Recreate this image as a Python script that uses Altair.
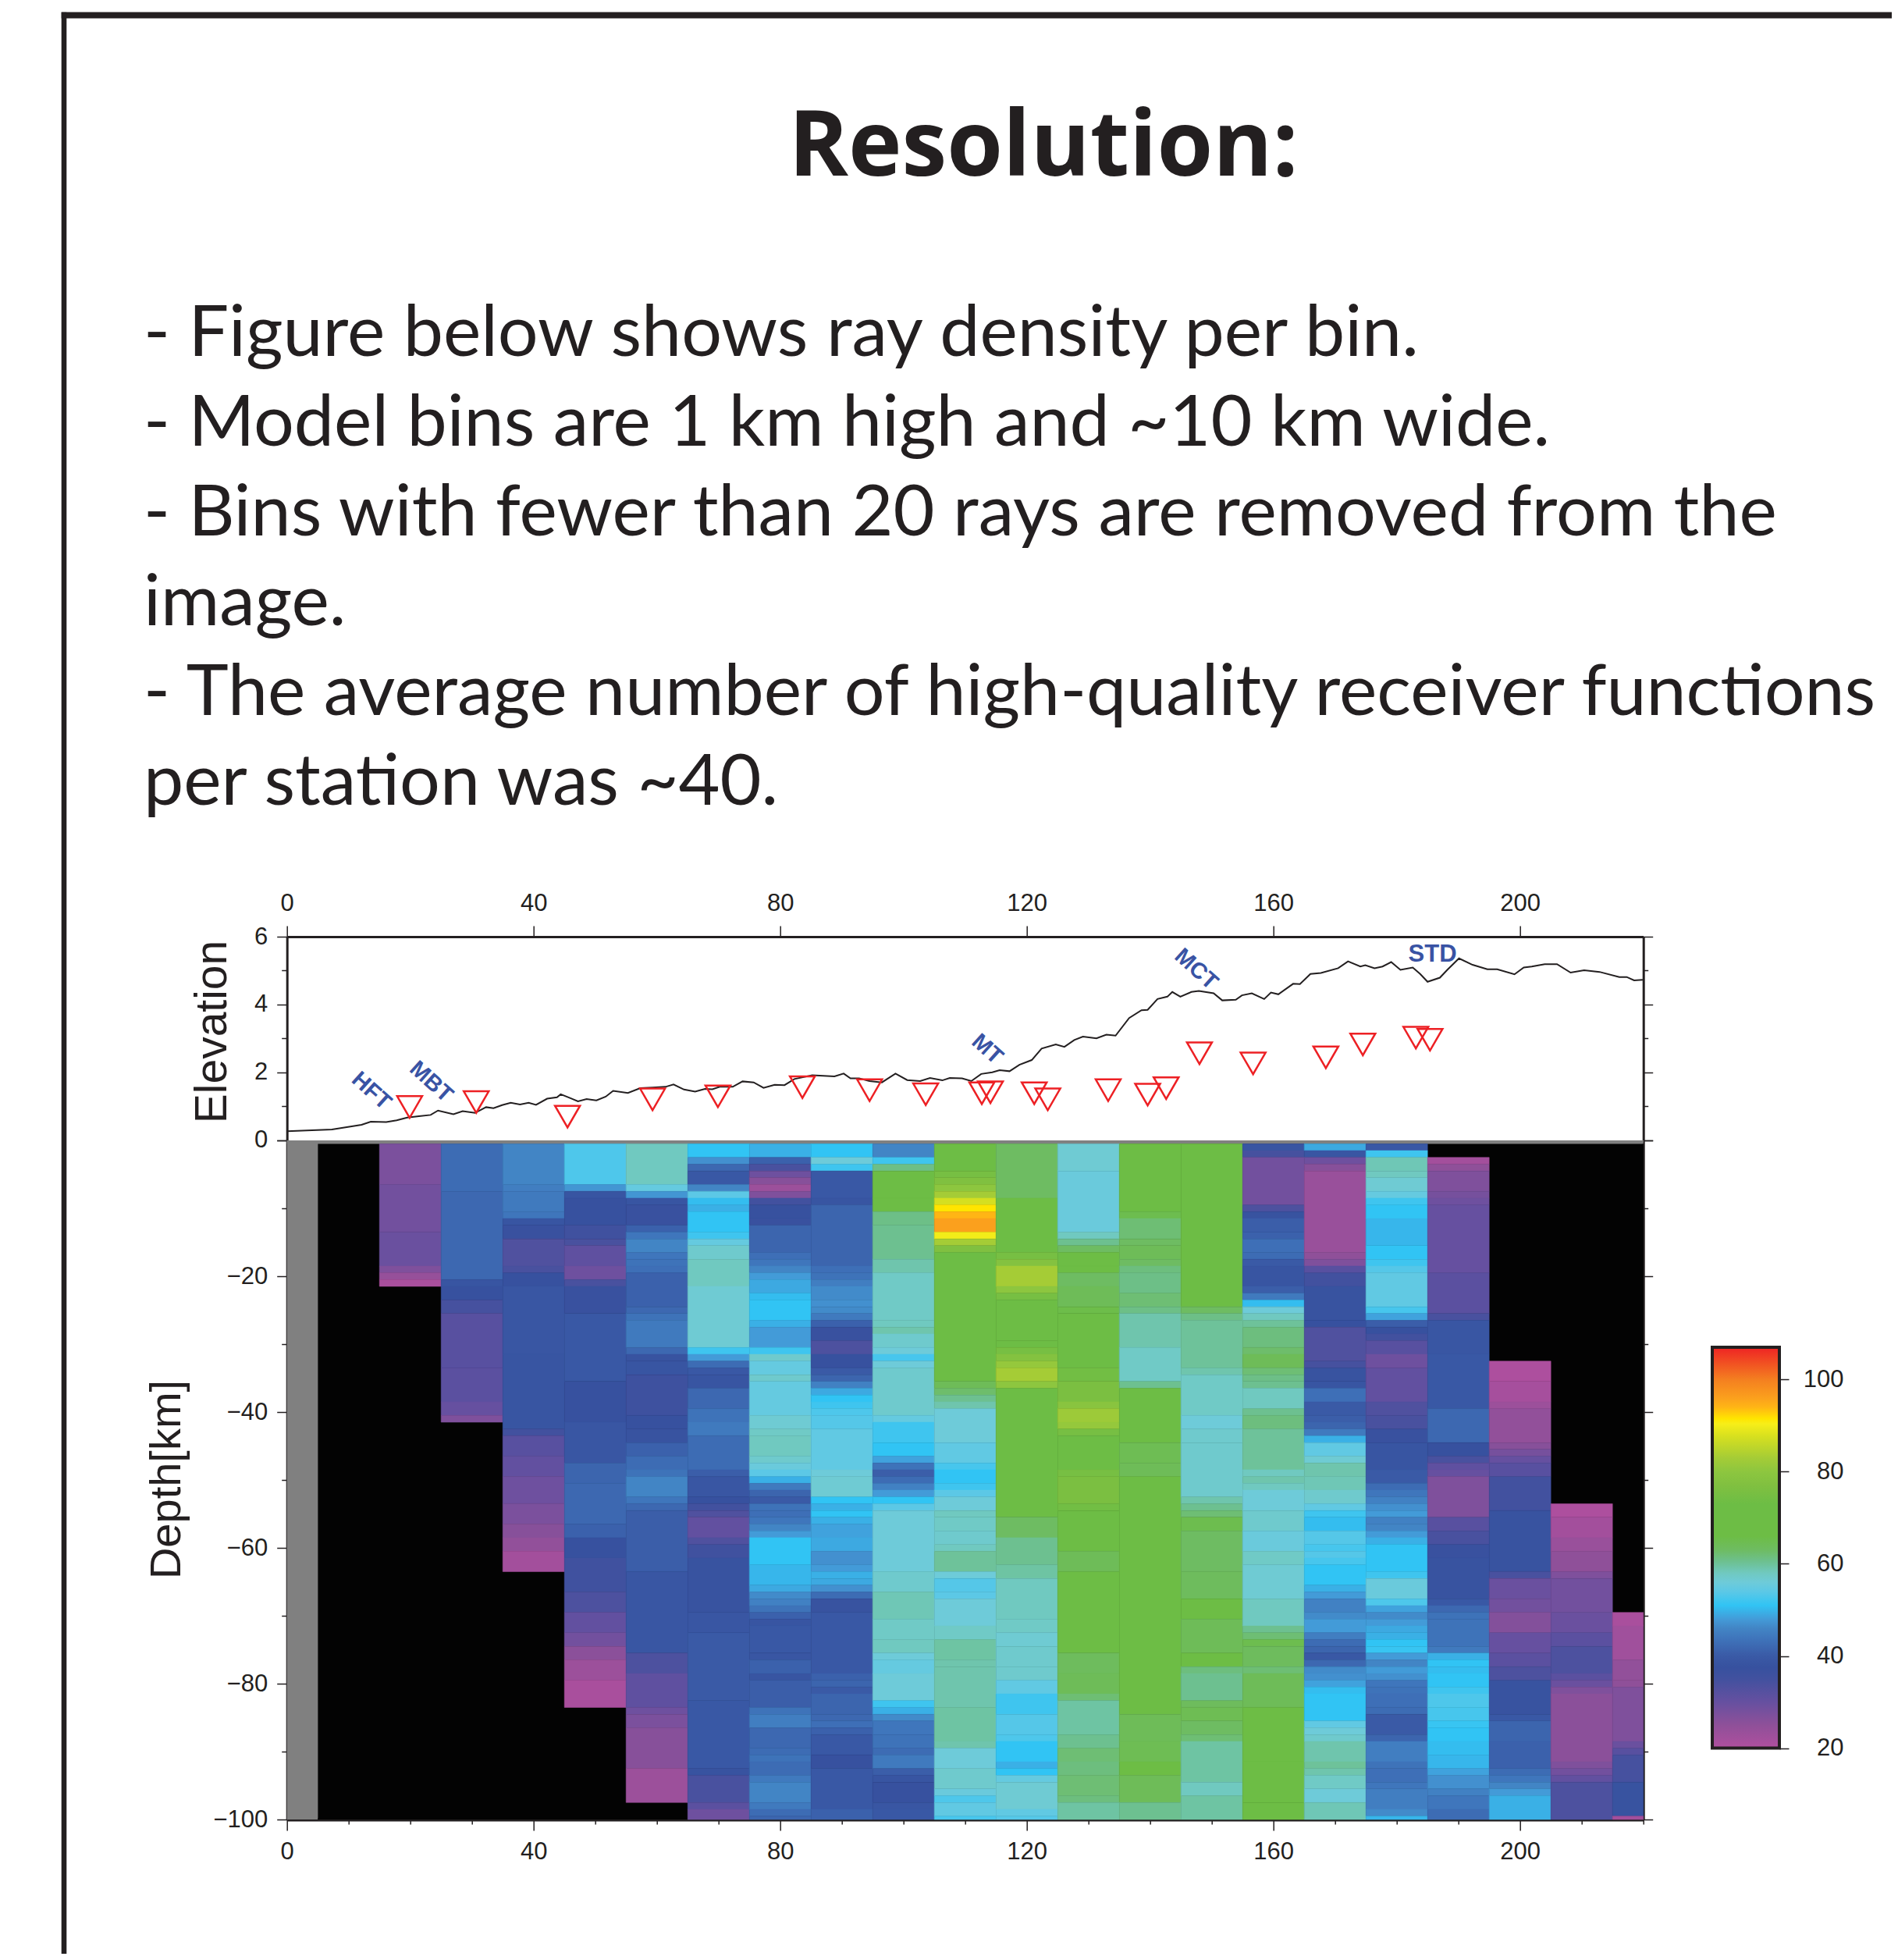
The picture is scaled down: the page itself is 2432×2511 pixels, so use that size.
import altair as alt
import pandas as pd

TXT = "#231f20"
SANS = "Liberation Sans"

title_text = "Resolution:"
body_lines = [
    "- Figure below shows ray density per bin.",
    "- Model bins are 1 km high and ~10 km wide.",
    "- Bins with fewer than 20 rays are removed from the",
    "image.",
    "- The average number of high-quality receiver functions",
    "per station was ~40.",
]

profile_km = [0,7.3,9.7,12.1,13.6,16.1,17.8,19.5,21.4,23.3,24.5,27.0,28.5,30.5,32.3,33.5,34.9,36.3,37.8,39.2,40.4,42.2,43.8,44.4,45.9,47.2,48.6,50.2,51.7,52.9,55.3,57.3,59.3,61.4,62.7,64.4,66.2,67.8,69.0,70.2,72.3,73.9,75.7,77.3,79.1,80.7,82.3,85.2,88.8,90.3,91.4,92.8,94.5,96.5,98.7,100.6,102.7,104.3,106.3,107.5,109.5,111.0,112.6,114.4,115.6,117.2,118.8,120.8,122.4,124.7,126.1,127.7,129.1,131.3,132.9,134.4,136.6,138.6,139.6,141.2,142.8,143.6,144.9,146.7,147.9,150.3,151.7,153.9,154.9,156.5,158.5,159.6,160.8,163.2,164.3,166.0,167.7,170.5,172.1,174.1,174.9,176.4,177.7,179.1,180.6,182.6,183.8,185.0,187.0,188.2,190.1,192.3,194.7,196.3,199.1,200.6,201.9,204.0,206.0,208.2,210.4,212.9,216.1,217.3,218.5,219.9]
profile_elev = [.26,.31,.38,.45,.54,.53,.58,.66,.70,.74,.87,.76,.85,.80,.97,.94,1.03,1.10,1.05,1.10,1.04,1.22,1.26,1.35,1.24,1.14,1.21,1.17,1.28,1.45,1.39,1.53,1.55,1.57,1.64,1.49,1.43,1.51,1.50,1.57,1.57,1.73,1.70,1.54,1.63,1.62,1.80,1.91,1.88,1.96,1.82,1.82,1.74,1.70,1.96,1.77,1.74,1.83,1.76,1.83,1.82,1.74,1.95,2.00,2.06,2.03,2.22,2.36,2.70,2.82,2.75,2.95,3.05,3.00,3.11,3.08,3.60,3.83,3.84,4.16,4.23,4.37,4.23,4.37,4.40,4.33,4.12,4.14,4.27,4.33,4.16,4.35,4.30,4.61,4.60,4.90,4.93,5.07,5.27,5.12,5.16,5.07,5.12,5.25,5.02,5.09,4.90,4.67,4.79,5.02,5.36,5.17,5.04,5.04,4.89,5.09,5.12,5.19,5.19,4.94,5.01,4.96,4.81,4.81,4.71,4.73]

station_km = [19.9,30.7,45.5,59.3,69.9,83.6,94.5,103.6,112.7,114.1,121.2,123.4,133.2,139.6,142.6,148,156.7,168.5,174.5,183.1,185.4]
station_elev = [.975,1.12,.69,1.2,1.29,1.56,1.47,1.35,1.38,1.41,1.38,1.2,1.47,1.34,1.53,2.56,2.26,2.44,2.82,3.02,2.96]

fault_names = ["HFT", "MBT", "MT", "MCT"]
fault_km = [13.7, 23.4, 113.6, 147.5]
fault_elev = [1.45, 1.72, 2.68, 5.04]
std_name = ["STD"]
std_km = [185.8]
std_elev = [5.48]

# Ray counts per column, as (number of 1 km rows, ray count) from the top down.
col_15 = [(6,27.5),(7,28.5),(5,29.5),(1,27),(1,24),(1,21)]
col_25 = [(7,42.5),(13,42),(1,38.5),(2,37.5),(2,34.5),(8,32),(5,31.5),(2,30),(1,27)]
col_35 = [(6,46),(1,45),(3,44.5),(1,44),(1,38.5),(2,37),(4,33),(1,34),(2,37.5),(10,39),(11,38.5),(1,35),(3,32),(3,30.5),(4,29),(3,27.5),(2,26),(2,24.5),(3,22)]
col_45 = [(6,53),(1,47.5),(1,38.5),(4,37.5),(2,35.5),(1,34),(3,31),(2,29),(1,34),(4,37),(10,39.5),(6,37.5),(6,39),(3,41.5),(6,42),(2,41),(3,37.5),(5,35.5),(3,33.5),(3,30.5),(2,28.5),(2,25.5),(3,23),(4,21)]
col_55 = [(6,58),(1,55),(1,47.5),(1,38.5),(3,37),(1,41),(1,44),(2,46),(1,44),(1,43.5),(1,43),(5,41),(1,42),(1,43.5),(4,44.5),(1,42),(1,38),(2,38.5),(6,36),(2,37.5),(2,38),(2,41),(2,42.5),(1,43.5),(3,46),(1,44),(1,42),(9,40.5),(12,39),(3,33.5),(5,31),(1,29),(2,27.5),(6,26),(5,23)]
col_65 = [(2,51),(1,47),(1,42),(2,39.5),(1,46),(1,54),(1,50.5),(1,49.5),(3,51),(1,52),(1,55),(2,57),(4,58),(9,56.5),(1,52),(1,48),(1,42.5),(1,39.5),(2,38.5),(3,42),(2,43.5),(2,44.5),(5,42.5),(1,40.5),(3,39),(1,37.5),(1,35),(1,33),(3,30.5),(1,33),(2,35.5),(8,38),(3,39),(10,40),(10,39.5),(1,38),(4,34),(1,31.5),(2,29)]
col_75 = [(2,49.5),(1,41),(1,34),(1,29),(1,26),(1,23),(1,27),(1,35),(2,37.5),(1,37),(4,41.5),(1,43),(1,44),(1,46),(1,48),(2,49),(1,50.5),(3,51),(1,49.5),(3,48),(1,52),(1,57),(2,55),(1,57),(5,55),(2,56.5),(1,57.5),(3,58),(1,57),(1,55.5),(1,54),(1,49.5),(1,44.5),(1,41.5),(1,40),(1,43.5),(1,43),(1,44),(1,46),(1,48),(4,51),(3,50),(1,49),(1,46.5),(1,45.5),(1,43.5),(1,41),(1,38.5),(4,39.5),(1,39),(2,41),(1,38.5),(4,40.5),(1,43.5),(2,45),(3,42),(1,42.5),(1,43.5),(2,42.5),(1,44.5),(3,46),(1,44.5),(1,42.5),(1,41.5)]
col_85 = [(2,51),(1,56),(1,52),(4,39.5),(1,38.5),(9,41.5),(1,43),(1,43.5),(1,45),(2,46.5),(1,47),(1,46.5),(1,44.5),(1,41),(2,37),(2,33.5),(2,37.5),(1,40),(1,41.5),(1,45.5),(1,49),(1,51),(1,52),(1,53),(2,53.5),(6,54.5),(1,56),(3,56.5),(1,51),(1,49.5),(1,51),(1,49.5),(2,48.5),(2,49),(2,47),(1,48),(1,49.5),(1,49),(1,47),(1,42.5),(2,38),(9,39.5),(1,41),(1,41.5),(1,40),(3,41.5),(1,42),(1,43),(1,41),(3,39.5),(2,37.5),(6,39.5),(2,41)]
col_95 = [(2,46),(1,52),(1,61),(4,70),(2,66),(2,61),(5,60.5),(2,59),(7,57.5),(1,58),(1,59),(2,57),(1,56),(1,52.5),(1,56),(7,57),(1,55),(3,52),(2,51),(1,48.5),(1,43.5),(1,40.5),(1,42.5),(1,45.5),(1,48),(1,51),(1,54),(9,56),(3,57),(4,58.5),(3,57.5),(2,58),(1,56),(2,55),(4,56),(1,52),(1,49.5),(1,46.5),(2,44),(2,43.5),(1,42.5),(2,44.5),(1,40.5),(1,38.5),(3,37.5),(1,39),(2,39.5)]
col_105 = [(4,70),(1,75),(1,77),(1,80),(1,83),(1,87.5),(1,91.5),(1,94),(2,96),(1,90),(1,83),(1,77),(19,70),(1,64),(1,62.5),(1,60.5),(1,59),(5,56),(3,54.5),(1,52.5),(2,51),(1,52),(1,54),(2,56),(1,58),(2,57.5),(2,57),(1,58),(3,60),(1,56),(2,53.5),(1,54),(4,56),(2,57.5),(3,59.5),(1,59),(6,59),(5,59.5),(1,59),(3,56),(3,57),(1,55.5),(1,53),(2,54.5),(1,52.5)]
col_115 = [(8,63),(8,70),(1,75),(1,78),(3,83),(1,80),(1,75),(6,70),(1,73),(1,75),(1,78),(1,81),(2,83),(1,80),(19,70),(3,63),(4,60.5),(2,59.5),(6,58),(2,57.5),(2,56.5),(3,57),(2,57),(2,54.5),(3,52),(3,53.5),(1,53),(3,51),(1,49.5),(1,51),(1,55),(4,56.5),(1,54.5),(1,53.5)]
col_125 = [(4,56.5),(9,55.5),(1,58),(1,60.5),(1,63),(2,70),(1,66),(2,63),(3,64),(1,65.5),(8,70),(2,74),(3,76),(1,79),(2,82),(1,81),(1,75),(5,70),(1,75),(4,76),(1,74),(6,70),(3,64),(12,70),(3,63.5),(3,64),(1,62),(5,59.5),(2,60.5),(2,62),(2,61.5),(3,62),(1,61.5),(3,59.5)]
col_135 = [(10,70),(1,65),(3,62),(1,63),(2,64),(1,63),(1,61.5),(3,61),(2,62),(1,61),(5,59),(5,57.5),(1,60.5),(8,70),(3,64.5),(2,64),(35,70),(4,64),(3,64.5),(2,70),(4,64),(3,60.5)]
col_145 = [(24,70),(1,63),(1,61),(7,60),(1,59),(6,57.5),(2,56),(2,57),(8,57),(1,59),(1,60.5),(1,62),(2,65),(6,63),(4,63.5),(3,70),(5,64),(2,66),(1,61.5),(4,60.5),(1,63.5),(2,64.5),(2,63),(1,62),(6,59.5),(2,58),(4,59.5)]
col_155 = [(1,38.5),(1,34.5),(7,28.5),(1,33.5),(1,38),(2,40.5),(1,41),(2,43),(1,42.5),(1,40),(3,38.5),(1,40.5),(1,44.5),(1,50.5),(1,56),(1,58),(1,60),(3,61.5),(1,62.5),(2,64),(1,62),(1,61),(1,60.5),(3,58),(1,60.5),(2,61.5),(6,60),(1,58),(1,59),(1,58),(3,56),(3,57),(3,55.5),(2,57.5),(5,56.5),(4,58),(1,60.5),(1,62),(1,65),(3,63.5),(1,62),(5,64),(8,70),(6,66),(3,68)]
col_165 = [(1,49),(1,39),(1,29),(1,26),(12,23.5),(1,25),(1,27),(1,32),(2,35),(5,38),(1,37.5),(5,33),(1,34.5),(2,38),(1,38.5),(2,43),(2,40),(1,40.5),(1,41.5),(1,44.5),(1,49.5),(2,54.5),(1,56.5),(2,59),(2,58.5),(2,57),(1,54.5),(1,52),(2,50.5),(2,53.5),(1,52.5),(1,53.5),(1,52.5),(3,51),(1,49.5),(1,48),(2,45.5),(1,46.5),(2,48),(1,45),(1,42.5),(1,41.5),(1,39.5),(1,42),(1,46.5),(1,47),(1,48.5),(1,50.5),(4,51),(1,54.5),(1,56),(1,57),(3,59),(1,60),(1,59),(2,57.5),(2,56),(3,58.5)]
col_175 = [(1,39.5),(1,52),(2,58.5),(1,58),(2,56.5),(1,55),(1,52),(2,51),(4,50),(2,51),(1,52),(1,53.5),(5,54.5),(1,52.5),(1,48.5),(1,40.5),(1,37.5),(1,35),(2,32),(2,29),(5,30.5),(2,33),(2,34),(2,37),(4,38.5),(2,40),(1,42.5),(1,44),(1,45.5),(1,47),(1,48),(1,45.5),(1,46),(1,48),(1,49.5),(4,51),(1,52),(3,55.5),(1,53),(1,48.5),(1,46.5),(1,48),(1,49),(1,49.5),(1,51),(1,51.5),(1,48),(1,46),(1,48),(1,47),(1,44),(1,43.5),(2,43),(1,42.5),(3,40),(1,41.5),(3,45),(1,43.5),(2,43),(1,44),(3,45),(1,46.5),(1,50)]
col_185 = [(1,22),(1,25),(3,27),(1,28),(1,29),(10,30),(6,31.5),(1,34),(5,39),(8,39.5),(5,42),(2,37.5),(1,34),(1,31),(1,30),(6,27),(2,32),(2,34),(2,37),(6,38),(1,39.5),(1,42),(1,43.5),(4,43.5),(1,44.5),(1,49.5),(1,51),(1,50.5),(2,51),(1,52),(2,53),(2,52.5),(1,51.5),(2,51),(2,50.5),(2,50),(1,48.5),(2,47),(1,45.5),(2,44),(2,42.5)]
col_195 = [(3,20.5),(3,21.5),(1,23),(5,24.5),(1,26),(1,28),(1,30),(2,32),(5,35),(9,38),(1,34),(3,29.5),(2,28.5),(3,26.5),(3,30),(2,31.5),(2,33.5),(5,38),(1,39.5),(3,41.5),(4,41),(1,42.5),(1,44),(1,46),(1,48),(4,49.5)]
col_205 = [(2,20.5),(3,22),(2,23.5),(3,25),(1,27),(5,28.5),(3,29.5),(2,31.5),(4,33.5),(1,31.5),(1,29.5),(1,27),(10,25.5),(1,27),(1,28.5),(1,30.5),(6,33.5)]
col_215 = [(2,21),(5,22.5),(3,24.5),(1,25),(8,27),(1,29.5),(1,32),(4,34.5),(5,38),(1,22)]

# (west edge km, east edge km, first row with rays, runs)
columns = [
    (15,25,0,col_15),(25,35,0,col_25),(35,45,0,col_35),(45,55,0,col_45),(55,65,0,col_55),
    (65,75,0,col_65),(75,85,0,col_75),(85,95,0,col_85),(95,105,0,col_95),(105,115,0,col_105),
    (115,125,0,col_115),(125,135,0,col_125),(135,145,0,col_135),(145,155,0,col_145),(155,165,0,col_155),
    (165,175,0,col_165),(175,185,0,col_175),(185,195,2,col_185),(195,205,32,col_195),(205,215,53,col_205),(215,220,69,col_215),
]

stop_values = [20,25,30,35,37.5,40,44,46,48,51,54,56,58,60.5,63,66,73,77,80,83,87.5,90.4,91.5,94,96,100,107]
stop_colors = ["#b04f9e","#8f5099","#6650a0","#42519f","#37519f","#3a5aa6","#3f76bc","#4285c5","#439bd8","#31c4f4","#5cc8e6","#6ecbd9","#70c9c0","#6dc090","#6ebc62","#6dbd45","#6dbd45","#80c040","#8dc63f","#a5cc36","#d5df20","#f7ee18","#ffe500","#ffb515","#fba01d","#f47f20","#ee2324"]

rows = []
for x0, x1, first, runs in columns:
    r = first
    for n, v in runs:
        rows.append({"x0": x0, "x1": x1, "top": -(r + 0.5), "bot": max(-(r + n + 0.5), -100), "rays": v})
        r += n
tiles = pd.DataFrame(rows)

PW, EH, DH = 1738, 260.5, 870
PAGE_TOP_H = 1191.5
ORIGIN_X = 367.7

dummy = pd.DataFrame({"a": [0]})

def ax(**kw):
    base = dict(domainColor=TXT, domainWidth=3, tickColor=TXT, tickWidth=1.5, labelColor=TXT,
                labelFont=SANS, labelFontSize=31, grid=False, titleColor=TXT, titleFont=SANS,
                titleFontWeight="normal", labelFlush=False, labelOverlap=False)
    base.update(kw)
    return alt.Axis(**base)

def ts(test, major, minor):
    return {"condition": {"test": test, "value": major}, "value": minor}

# ---- page furniture ----
title_mark = alt.Chart(dummy).mark_text(text=title_text, font="Open Sans", fontWeight="bold", fontSize=116,
                                        align="center", baseline="alphabetic", color=TXT).encode(
    x=alt.value(1337 - ORIGIN_X), y=alt.value(225 - 8))
body_df = pd.DataFrame({"line": list(range(len(body_lines))), "t": body_lines})
body_mark = alt.Chart(body_df).mark_text(font="Lato", fontSize=91.5, align="left", baseline="alphabetic", color=TXT).encode(
    x=alt.value(184 - ORIGIN_X),
    y=alt.Y("line:Q", axis=None, scale=alt.Scale(domain=[0, 5], range=[448, 1023])),
    text="t:N")
frame_left = alt.Chart(dummy).mark_rule(color=TXT, strokeWidth=6.6).encode(
    x=alt.value(82 - ORIGIN_X), y=alt.value(15.7 - 8), y2=alt.value(2511 - 8))
frame_top = alt.Chart(dummy).mark_rule(color=TXT, strokeWidth=8).encode(
    x=alt.value(78.7 - ORIGIN_X), x2=alt.value(2432 - ORIGIN_X), y=alt.value(19.6 - 8))
page = alt.layer(title_mark, body_mark, frame_left, frame_top).properties(width=PW, height=PAGE_TOP_H)

# ---- elevation panel ----
xs = alt.Scale(domain=[0, 220], nice=False)
ely = alt.Scale(domain=[0, 6], nice=False)
prof = pd.DataFrame({"km": profile_km, "elev": profile_elev})
line = alt.Chart(prof).mark_line(color=TXT, strokeWidth=2).encode(
    x=alt.X("km:Q", scale=xs, axis=ax(orient="top", values=[0,40,80,120,160,200], tickSize=14,
                                      labelPadding=13, title=None, format="d")),
    y=alt.Y("elev:Q", scale=ely, axis=ax(orient="left", values=[0,1,2,3,4,5,6], title="Elevation",
                                         tickSize=ts("datum.value % 2 == 0", 13, 7),
                                         labelExpr="datum.value % 2 == 0 ? datum.label : ''",
                                         labelPadding=12, titleFontSize=57, titleX=-78.7, titleY=121.5,
                                         titleAlign="center", titleBaseline="alphabetic", titleAngle=270)))
st = pd.DataFrame({"km": station_km, "elev": station_elev})
tri = alt.Chart(st).mark_point(shape="triangle-down", size=1024, filled=False, stroke="#ed2024", strokeWidth=2.5, opacity=1).encode(
    x=alt.X("km:Q", scale=xs, axis=None),
    y=alt.Y("elev:Q", scale=ely, axis=ax(orient="right", values=[0,1,2,3,4,5,6], title=None, labels=False,
                                         tickSize=ts("datum.value % 2 == 0", 12, 6))))
fl = pd.DataFrame({"km": fault_km, "elev": fault_elev, "n": fault_names})
faults = alt.Chart(fl).mark_text(angle=42, font=SANS, fontWeight="bold", fontSize=29, color="#3953a4").encode(
    x=alt.X("km:Q", scale=xs, axis=None), y=alt.Y("elev:Q", scale=ely, axis=None), text="n:N")
sd = pd.DataFrame({"km": std_km, "elev": std_elev, "n": std_name})
std = alt.Chart(sd).mark_text(font=SANS, fontWeight="bold", fontSize=31, color="#3953a4").encode(
    x=alt.X("km:Q", scale=xs, axis=None), y=alt.Y("elev:Q", scale=ely, axis=None), text="n:N")
elev = alt.layer(line, tri, faults, std).resolve_axis(x="independent", y="independent").properties(width=PW, height=EH)

# ---- depth panel ----
dy = alt.Scale(domain=[-100, 0], nice=False)
depth_vals = list(range(-100, 1, 10))
cs = alt.Scale(domain=stop_values, range=stop_colors, interpolate="rgb", clamp=True)

gray_bg = alt.Chart(pd.DataFrame({"x0": [0, 0], "x1": [5, 220], "t": [0, 0], "b": [-100, -0.5]})).mark_rect(color="#808080").encode(
    x=alt.X("x0:Q", scale=xs, axis=ax(orient="bottom", values=list(range(0, 221, 10)), title=None, format="d",
                                      domainWidth=4, labelPadding=12,
                                      tickSize=ts("datum.value % 40 == 0", 14, 6),
                                      labelExpr="datum.value % 40 == 0 ? datum.label : ''")),
    x2="x1:Q",
    y=alt.Y("t:Q", scale=dy, axis=ax(orient="left", values=depth_vals, title="Depth[km]",
                                     tickSize=ts("datum.value % 20 == 0", 13, 7),
                                     labelExpr="datum.value % 20 == 0 && datum.value < 0 ? datum.label : ''",
                                     labelPadding=12, titleFontSize=56, titleX=-137.7, titleY=434,
                                     titleAlign="center", titleBaseline="alphabetic", titleAngle=270)),
    y2="b:Q")
black_bg = alt.Chart(pd.DataFrame({"x0": [5], "x1": [220], "t": [-0.5], "b": [-100]})).mark_rect(color="#030303").encode(
    x=alt.X("x0:Q", scale=xs, axis=None), x2="x1:Q",
    y=alt.Y("t:Q", scale=dy, axis=ax(orient="right", values=depth_vals, title=None, labels=False,
                                     tickSize=ts("datum.value % 20 == 0", 12, 6))),
    y2="b:Q")
heat = alt.Chart(tiles).mark_rect(strokeWidth=0.5).encode(
    x=alt.X("x0:Q", scale=xs, axis=None), x2="x1:Q",
    y=alt.Y("top:Q", scale=dy, axis=None), y2="bot:Q",
    color=alt.Color("rays:Q", scale=cs, legend=None),
    stroke=alt.Stroke("rays:Q", scale=cs, legend=None))
depth = alt.layer(gray_bg, black_bg, heat).resolve_axis(x="independent", y="independent").properties(width=PW, height=DH)

# ---- colour bar ----
grad = {"gradient": "linear", "x1": 0, "y1": 1, "x2": 0, "y2": 0,
        "stops": [{"offset": (v - 20) / 87, "color": c} for v, c in zip(stop_values, stop_colors)]}
cb_y = alt.Scale(domain=[20, 107], nice=False, range=[778.6, 265])
cb_x = alt.Scale(domain=[0, 1], nice=False)
cbar = alt.Chart(pd.DataFrame({"x0": [0], "x1": [1], "lo": [20], "hi": [107]})).mark_rect(
    fill=grad, stroke=TXT, strokeWidth=4).encode(
    x=alt.X("x0:Q", scale=cb_x, axis=None), x2="x1:Q",
    y=alt.Y("lo:Q", scale=cb_y, axis=ax(orient="right", values=[20,40,60,80,100], title=None, domain=False,
                                        tickSize=12, labelFontSize=31, labelAlign="right", labelPadding=70)),
    y2="hi:Q").properties(width=86, height=DH)

def blank(h):
    return alt.Chart(dummy).mark_point(opacity=0).encode(x=alt.value(0), y=alt.value(0)).properties(width=86, height=h)

chart = alt.concat(page, blank(1), elev, blank(1), depth, cbar, columns=2,
                   spacing={"row": 0, "column": 88.3}, bounds="flush", align="each",
                   autosize="none",
                   padding={"left": ORIGIN_X - 8, "top": 0, "right": 2416 - (ORIGIN_X - 8), "bottom": 2495}).configure_view(stroke=None)

chart.save("out.html", embed_options={"renderer": "svg", "actions": False})
